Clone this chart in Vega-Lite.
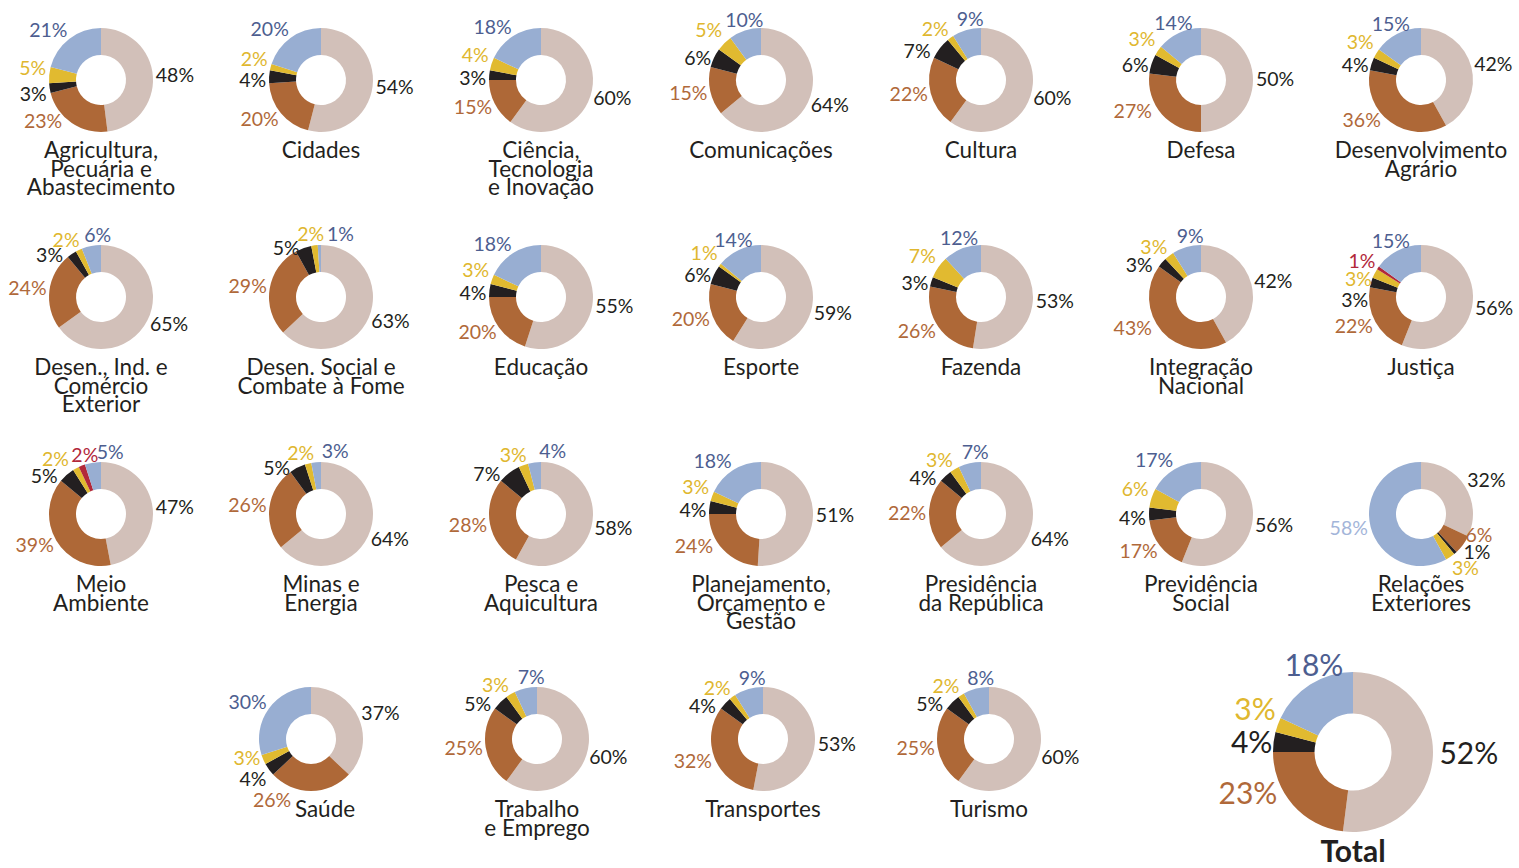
{
  "$schema": "https://vega.github.io/schema/vega-lite/v6.json",
  "background": "white",
  "padding": {"left": 6, "top": 1, "right": 0, "bottom": 0},
  "spacing": 18,
  "config": {
    "view": {"stroke": null},
    "header": {"labels": false, "title": null, "labelPadding": 0, "titlePadding": 0},
    "headerFacet": {"labels": false, "title": null, "labelPadding": 0, "titlePadding": 0}
  },
  "datasets": {
    "donuts": [
      {"name": "Agricultura,|Pecuária e|Abastecimento", "cat": "A", "pct": 0.48},
      {"name": "Agricultura,|Pecuária e|Abastecimento", "cat": "B", "pct": 0.23},
      {"name": "Agricultura,|Pecuária e|Abastecimento", "cat": "C", "pct": 0.03},
      {"name": "Agricultura,|Pecuária e|Abastecimento", "cat": "D", "pct": 0.05},
      {"name": "Agricultura,|Pecuária e|Abastecimento", "cat": "F", "pct": 0.21},
      {"name": "Cidades", "cat": "A", "pct": 0.54},
      {"name": "Cidades", "cat": "B", "pct": 0.20},
      {"name": "Cidades", "cat": "C", "pct": 0.04},
      {"name": "Cidades", "cat": "D", "pct": 0.02},
      {"name": "Cidades", "cat": "F", "pct": 0.20},
      {"name": "Ciência,|Tecnologia|e Inovação", "cat": "A", "pct": 0.60},
      {"name": "Ciência,|Tecnologia|e Inovação", "cat": "B", "pct": 0.15},
      {"name": "Ciência,|Tecnologia|e Inovação", "cat": "C", "pct": 0.03},
      {"name": "Ciência,|Tecnologia|e Inovação", "cat": "D", "pct": 0.04},
      {"name": "Ciência,|Tecnologia|e Inovação", "cat": "F", "pct": 0.18},
      {"name": "Comunicações", "cat": "A", "pct": 0.64},
      {"name": "Comunicações", "cat": "B", "pct": 0.15},
      {"name": "Comunicações", "cat": "C", "pct": 0.06},
      {"name": "Comunicações", "cat": "D", "pct": 0.05},
      {"name": "Comunicações", "cat": "F", "pct": 0.10},
      {"name": "Cultura", "cat": "A", "pct": 0.60},
      {"name": "Cultura", "cat": "B", "pct": 0.22},
      {"name": "Cultura", "cat": "C", "pct": 0.07},
      {"name": "Cultura", "cat": "D", "pct": 0.02},
      {"name": "Cultura", "cat": "F", "pct": 0.09},
      {"name": "Defesa", "cat": "A", "pct": 0.50},
      {"name": "Defesa", "cat": "B", "pct": 0.27},
      {"name": "Defesa", "cat": "C", "pct": 0.06},
      {"name": "Defesa", "cat": "D", "pct": 0.03},
      {"name": "Defesa", "cat": "F", "pct": 0.14},
      {"name": "Desenvolvimento|Agrário", "cat": "A", "pct": 0.42},
      {"name": "Desenvolvimento|Agrário", "cat": "B", "pct": 0.36},
      {"name": "Desenvolvimento|Agrário", "cat": "C", "pct": 0.04},
      {"name": "Desenvolvimento|Agrário", "cat": "D", "pct": 0.03},
      {"name": "Desenvolvimento|Agrário", "cat": "F", "pct": 0.15},
      {"name": "Desen., Ind. e|Comércio|Exterior", "cat": "A", "pct": 0.65},
      {"name": "Desen., Ind. e|Comércio|Exterior", "cat": "B", "pct": 0.24},
      {"name": "Desen., Ind. e|Comércio|Exterior", "cat": "C", "pct": 0.03},
      {"name": "Desen., Ind. e|Comércio|Exterior", "cat": "D", "pct": 0.02},
      {"name": "Desen., Ind. e|Comércio|Exterior", "cat": "F", "pct": 0.06},
      {"name": "Desen. Social e|Combate à Fome", "cat": "A", "pct": 0.63},
      {"name": "Desen. Social e|Combate à Fome", "cat": "B", "pct": 0.29},
      {"name": "Desen. Social e|Combate à Fome", "cat": "C", "pct": 0.05},
      {"name": "Desen. Social e|Combate à Fome", "cat": "D", "pct": 0.02},
      {"name": "Desen. Social e|Combate à Fome", "cat": "F", "pct": 0.01},
      {"name": "Educação", "cat": "A", "pct": 0.55},
      {"name": "Educação", "cat": "B", "pct": 0.20},
      {"name": "Educação", "cat": "C", "pct": 0.04},
      {"name": "Educação", "cat": "D", "pct": 0.03},
      {"name": "Educação", "cat": "F", "pct": 0.18},
      {"name": "Esporte", "cat": "A", "pct": 0.59},
      {"name": "Esporte", "cat": "B", "pct": 0.20},
      {"name": "Esporte", "cat": "C", "pct": 0.06},
      {"name": "Esporte", "cat": "D", "pct": 0.01},
      {"name": "Esporte", "cat": "F", "pct": 0.14},
      {"name": "Fazenda", "cat": "A", "pct": 0.53},
      {"name": "Fazenda", "cat": "B", "pct": 0.26},
      {"name": "Fazenda", "cat": "C", "pct": 0.03},
      {"name": "Fazenda", "cat": "D", "pct": 0.07},
      {"name": "Fazenda", "cat": "F", "pct": 0.12},
      {"name": "Integração|Nacional", "cat": "A", "pct": 0.42},
      {"name": "Integração|Nacional", "cat": "B", "pct": 0.43},
      {"name": "Integração|Nacional", "cat": "C", "pct": 0.03},
      {"name": "Integração|Nacional", "cat": "D", "pct": 0.03},
      {"name": "Integração|Nacional", "cat": "F", "pct": 0.09},
      {"name": "Justiça", "cat": "A", "pct": 0.56},
      {"name": "Justiça", "cat": "B", "pct": 0.22},
      {"name": "Justiça", "cat": "C", "pct": 0.03},
      {"name": "Justiça", "cat": "D", "pct": 0.03},
      {"name": "Justiça", "cat": "E", "pct": 0.01},
      {"name": "Justiça", "cat": "F", "pct": 0.15},
      {"name": "Meio|Ambiente", "cat": "A", "pct": 0.47},
      {"name": "Meio|Ambiente", "cat": "B", "pct": 0.39},
      {"name": "Meio|Ambiente", "cat": "C", "pct": 0.05},
      {"name": "Meio|Ambiente", "cat": "D", "pct": 0.02},
      {"name": "Meio|Ambiente", "cat": "E", "pct": 0.02},
      {"name": "Meio|Ambiente", "cat": "F", "pct": 0.05},
      {"name": "Minas e|Energia", "cat": "A", "pct": 0.64},
      {"name": "Minas e|Energia", "cat": "B", "pct": 0.26},
      {"name": "Minas e|Energia", "cat": "C", "pct": 0.05},
      {"name": "Minas e|Energia", "cat": "D", "pct": 0.02},
      {"name": "Minas e|Energia", "cat": "F", "pct": 0.03},
      {"name": "Pesca e|Aquicultura", "cat": "A", "pct": 0.58},
      {"name": "Pesca e|Aquicultura", "cat": "B", "pct": 0.28},
      {"name": "Pesca e|Aquicultura", "cat": "C", "pct": 0.07},
      {"name": "Pesca e|Aquicultura", "cat": "D", "pct": 0.03},
      {"name": "Pesca e|Aquicultura", "cat": "F", "pct": 0.04},
      {"name": "Planejamento,|Orçamento e|Gestão", "cat": "A", "pct": 0.51},
      {"name": "Planejamento,|Orçamento e|Gestão", "cat": "B", "pct": 0.24},
      {"name": "Planejamento,|Orçamento e|Gestão", "cat": "C", "pct": 0.04},
      {"name": "Planejamento,|Orçamento e|Gestão", "cat": "D", "pct": 0.03},
      {"name": "Planejamento,|Orçamento e|Gestão", "cat": "F", "pct": 0.18},
      {"name": "Presidência|da República", "cat": "A", "pct": 0.64},
      {"name": "Presidência|da República", "cat": "B", "pct": 0.22},
      {"name": "Presidência|da República", "cat": "C", "pct": 0.04},
      {"name": "Presidência|da República", "cat": "D", "pct": 0.03},
      {"name": "Presidência|da República", "cat": "F", "pct": 0.07},
      {"name": "Previdência|Social", "cat": "A", "pct": 0.56},
      {"name": "Previdência|Social", "cat": "B", "pct": 0.17},
      {"name": "Previdência|Social", "cat": "C", "pct": 0.04},
      {"name": "Previdência|Social", "cat": "D", "pct": 0.06},
      {"name": "Previdência|Social", "cat": "F", "pct": 0.17},
      {"name": "Relações|Exteriores", "cat": "A", "pct": 0.32},
      {"name": "Relações|Exteriores", "cat": "B", "pct": 0.06},
      {"name": "Relações|Exteriores", "cat": "C", "pct": 0.01},
      {"name": "Relações|Exteriores", "cat": "D", "pct": 0.03},
      {"name": "Relações|Exteriores", "cat": "F", "pct": 0.58},
      {"name": "Saúde", "cat": "A", "pct": 0.37},
      {"name": "Saúde", "cat": "B", "pct": 0.26},
      {"name": "Saúde", "cat": "C", "pct": 0.04},
      {"name": "Saúde", "cat": "D", "pct": 0.03},
      {"name": "Saúde", "cat": "F", "pct": 0.30},
      {"name": "Trabalho|e Emprego", "cat": "A", "pct": 0.60},
      {"name": "Trabalho|e Emprego", "cat": "B", "pct": 0.25},
      {"name": "Trabalho|e Emprego", "cat": "C", "pct": 0.05},
      {"name": "Trabalho|e Emprego", "cat": "D", "pct": 0.03},
      {"name": "Trabalho|e Emprego", "cat": "F", "pct": 0.07},
      {"name": "Transportes", "cat": "A", "pct": 0.53},
      {"name": "Transportes", "cat": "B", "pct": 0.32},
      {"name": "Transportes", "cat": "C", "pct": 0.04},
      {"name": "Transportes", "cat": "D", "pct": 0.02},
      {"name": "Transportes", "cat": "F", "pct": 0.09},
      {"name": "Turismo", "cat": "A", "pct": 0.60},
      {"name": "Turismo", "cat": "B", "pct": 0.25},
      {"name": "Turismo", "cat": "C", "pct": 0.05},
      {"name": "Turismo", "cat": "D", "pct": 0.02},
      {"name": "Turismo", "cat": "F", "pct": 0.08},
      {"name": "Total", "cat": "A", "pct": 0.52},
      {"name": "Total", "cat": "B", "pct": 0.23},
      {"name": "Total", "cat": "C", "pct": 0.04},
      {"name": "Total", "cat": "D", "pct": 0.03},
      {"name": "Total", "cat": "F", "pct": 0.18}
    ]
  },
  "vconcat": [
    {
      "data": {"name": "donuts"},
      "transform": [{"filter": {"not": {"field": "name", "oneOf": ["Saúde", "Trabalho|e Emprego", "Transportes", "Turismo", "Total"]}}}],
      "facet": {
        "field": "name", "type": "nominal",
        "sort": ["Agricultura,|Pecuária e|Abastecimento", "Cidades", "Ciência,|Tecnologia|e Inovação", "Comunicações", "Cultura", "Defesa", "Desenvolvimento|Agrário", "Desen., Ind. e|Comércio|Exterior", "Desen. Social e|Combate à Fome", "Educação", "Esporte", "Fazenda", "Integração|Nacional", "Justiça", "Meio|Ambiente", "Minas e|Energia", "Pesca e|Aquicultura", "Planejamento,|Orçamento e|Gestão", "Presidência|da República", "Previdência|Social", "Relações|Exteriores"],
        "header": {"labels": false, "title": null, "labelExpr": "''", "labelFontSize": 1, "labelPadding": 0, "titlePadding": 0}
      },
      "columns": 7,
      "bounds": "flush",
      "spacing": {"row": 61, "column": 30},
      "spec": {
        "width": 190, "height": 156,
        "encoding": {
          "theta": {"field": "pct", "type": "quantitative", "stack": "normalize"},
          "order": {"field": "cat", "type": "ordinal"}
        },
        "layer": [
          {
            "mark": {"type": "arc", "outerRadius": 52, "innerRadius": 25},
            "encoding": {"color": {"field": "cat", "type": "nominal", "legend": null, "scale": {"domain": ["A", "B", "C", "D", "E", "F"], "range": ["#d2c0b9", "#ae6837", "#231f20", "#e1ba30", "#b2283a", "#98aed2"]}}}
          },
          {
            "mark": {"type": "text", "radius": 55, "font": "Lato", "fontSize": 19.5, "align": "center", "baseline": "middle",
              "dx": {"expr": "clamp(2*sin(PI*(datum.pct_start+datum.pct_end)),-1,1)*(datum.pct>=0.095?19:13.5) + (datum.cat==='F' ? (datum.pct<=0.05 ? 22 : (datum.pct<=0.15 ? 12 : 0)) : 0) + (datum.cat==='C' ? (cos(PI*(datum.pct_start+datum.pct_end))>0.5 ? -7 : (sin(PI*(datum.pct_start+datum.pct_end))>0 ? 6 : 0)) : 0) + (datum.cat==='E' && cos(PI*(datum.pct_start+datum.pct_end))>0.8 ? 14 : 0) + (datum.cat==='D' && cos(PI*(datum.pct_start+datum.pct_end))>0.85 && datum.name==='Meio|Ambiente' ? -6 : 0) + (datum.cat==='B' ? (cos(PI*(datum.pct_start+datum.pct_end))< -0.9 ? -39 : ((sin(PI*(datum.pct_start+datum.pct_end))<0 && cos(PI*(datum.pct_start+datum.pct_end))< -0.65) ? -8 : 0)) : 0)"},
              "dy": {"expr": "-cos(PI*(datum.pct_start+datum.pct_end))*7 + (datum.name==='Justiça' && (datum.cat==='C' || datum.cat==='D') ? 16 : 0) + (datum.cat==='C' ? (cos(PI*(datum.pct_start+datum.pct_end))>0.5 ? 10 : (sin(PI*(datum.pct_start+datum.pct_end))< -0.7 ? 5 : (sin(PI*(datum.pct_start+datum.pct_end))>0 ? -8 : 0))) : 0) + (datum.cat==='D' ? (sin(PI*(datum.pct_start+datum.pct_end))< -0.7 ? -5 : (sin(PI*(datum.pct_start+datum.pct_end))>0 ? 4 : 0)) : 0) + (datum.cat==='B' ? ((sin(PI*(datum.pct_start+datum.pct_end))>0.1 && cos(PI*(datum.pct_start+datum.pct_end))> -0.9) ? -14 : ((sin(PI*(datum.pct_start+datum.pct_end))<0 && cos(PI*(datum.pct_start+datum.pct_end))< -0.65 && cos(PI*(datum.pct_start+datum.pct_end))> -0.9) ? -9 : 0)) : 0)"}},
            "encoding": {
              "text": {"field": "pct", "type": "quantitative", "format": ".0%"},
              "color": {"condition": {"test": "datum.name === 'Relações|Exteriores' && datum.cat === 'F'", "value": "#a3b5d9"}, "field": "cat", "type": "nominal", "legend": null, "scale": {"domain": ["A", "B", "C", "D", "E", "F"], "range": ["#231f20", "#b0693a", "#231f20", "#e0b72f", "#b2283a", "#4d5e90"]}}
            }
          },
          {
            "transform": [{"filter": "datum.cat === 'A'"}],
            "mark": {"type": "text", "font": "Lato", "fontSize": 22.5, "lineHeight": 18.5, "lineBreak": "|", "align": "center", "baseline": "alphabetic", "dy": 78, "color": "#231f20"},
            "encoding": {"text": {"field": "name", "type": "nominal"}}
          }
        ],
        "resolve": {"scale": {"color": "independent"}}
      }
    },
    {
      "spacing": 134,
      "hconcat": [
        {
          "data": {"name": "donuts"},
          "transform": [{"filter": "false"}],
          "width": 76, "height": 10,
          "mark": {"type": "text"},
          "encoding": {}
        },
        {
          "data": {"name": "donuts"},
          "transform": [{"filter": {"field": "name", "oneOf": ["Saúde", "Trabalho|e Emprego", "Transportes", "Turismo"]}}],
          "facet": {
            "field": "name", "type": "nominal",
            "sort": ["Saúde", "Trabalho|e Emprego", "Transportes", "Turismo"],
            "header": {"labels": false, "title": null, "labelExpr": "''", "labelFontSize": 1, "labelPadding": 0, "titlePadding": 0}
          },
          "columns": 4,
          "bounds": "flush",
          "spacing": {"row": 0, "column": 36},
          "spec": {
            "width": 190, "height": 156,
            "encoding": {
              "theta": {"field": "pct", "type": "quantitative", "stack": "normalize"},
              "order": {"field": "cat", "type": "ordinal"}
            },
            "layer": [
              {
                "mark": {"type": "arc", "outerRadius": 52, "innerRadius": 25},
                "encoding": {"color": {"field": "cat", "type": "nominal", "legend": null, "scale": {"domain": ["A", "B", "C", "D", "E", "F"], "range": ["#d2c0b9", "#ae6837", "#231f20", "#e1ba30", "#b2283a", "#98aed2"]}}}
              },
              {
                "mark": {"type": "text", "radius": 55, "font": "Lato", "fontSize": 19.5, "align": "center", "baseline": "middle",
                  "dx": {"expr": "clamp(2*sin(PI*(datum.pct_start+datum.pct_end)),-1,1)*(datum.pct>=0.095?19:13.5) + (datum.cat==='F' ? (datum.pct<=0.05 ? 22 : (datum.pct<=0.15 ? 12 : 0)) : 0) + (datum.cat==='C' ? (cos(PI*(datum.pct_start+datum.pct_end))>0.5 ? -7 : (sin(PI*(datum.pct_start+datum.pct_end))>0 ? 6 : 0)) : 0) + (datum.cat==='B' ? (cos(PI*(datum.pct_start+datum.pct_end))< -0.9 ? -39 : ((sin(PI*(datum.pct_start+datum.pct_end))<0 && cos(PI*(datum.pct_start+datum.pct_end))< -0.65) ? -8 : 0)) : 0)"},
                  "dy": {"expr": "-cos(PI*(datum.pct_start+datum.pct_end))*7 + (datum.cat==='C' ? (cos(PI*(datum.pct_start+datum.pct_end))>0.5 ? 10 : (sin(PI*(datum.pct_start+datum.pct_end))< -0.7 ? 5 : 0)) : 0) + (datum.cat==='D' ? (sin(PI*(datum.pct_start+datum.pct_end))< -0.7 ? -5 : 0) : 0)"}},
                "encoding": {
                  "text": {"field": "pct", "type": "quantitative", "format": ".0%"},
                  "color": {"field": "cat", "type": "nominal", "legend": null, "scale": {"domain": ["A", "B", "C", "D", "E", "F"], "range": ["#231f20", "#b0693a", "#231f20", "#e0b72f", "#b2283a", "#4d5e90"]}}
                }
              },
              {
                "transform": [{"filter": "datum.cat === 'A'"}],
                "mark": {"type": "text", "font": "Lato", "fontSize": 22.5, "lineHeight": 18.5, "lineBreak": "|", "align": "center", "baseline": "alphabetic", "dy": 78, "color": "#231f20",
                  "dx": {"expr": "datum.name === 'Saúde' ? 14 : 0"}},
                "encoding": {"text": {"field": "name", "type": "nominal"}}
              }
            ],
            "resolve": {"scale": {"color": "independent"}}
          }
        },
        {
          "data": {"name": "donuts"},
          "transform": [{"filter": {"field": "name", "equal": "Total"}}],
          "width": 190, "height": 182,
          "encoding": {
            "theta": {"field": "pct", "type": "quantitative", "stack": "normalize"},
            "order": {"field": "cat", "type": "ordinal"}
          },
          "layer": [
            {
              "mark": {"type": "arc", "outerRadius": 80, "innerRadius": 38.5},
              "encoding": {"color": {"field": "cat", "type": "nominal", "legend": null, "scale": {"domain": ["A", "B", "C", "D", "E", "F"], "range": ["#d2c0b9", "#ae6837", "#231f20", "#e1ba30", "#b2283a", "#98aed2"]}}}
            },
            {
              "mark": {"type": "text", "radius": 84, "font": "Lato", "fontSize": 30, "align": "center", "baseline": "middle",
                "dx": {"expr": "datum.cat==='A' ? 32 : (datum.cat==='B' ? -42 : (datum.cat==='C' ? -18 : (datum.cat==='D' ? -19 : 6)))"},
                "dy": {"expr": "datum.cat==='A' ? -2 : (datum.cat==='B' ? -13 : (datum.cat==='C' ? 3 : (datum.cat==='D' ? -13 : -14)))"}},
              "encoding": {
                "text": {"field": "pct", "type": "quantitative", "format": ".0%"},
                "color": {"field": "cat", "type": "nominal", "legend": null, "scale": {"domain": ["A", "B", "C", "D", "E", "F"], "range": ["#231f20", "#b0693a", "#231f20", "#e0b72f", "#b2283a", "#4d5e90"]}}
              }
            },
            {
              "transform": [{"filter": "datum.cat === 'A'"}],
              "mark": {"type": "text", "font": "Lato", "fontSize": 30, "fontWeight": "bold", "align": "center", "baseline": "alphabetic", "dy": 110, "color": "#231f20"},
              "encoding": {"text": {"field": "name", "type": "nominal"}}
            }
          ],
          "resolve": {"scale": {"color": "independent"}}
        }
      ]
    }
  ]
}
